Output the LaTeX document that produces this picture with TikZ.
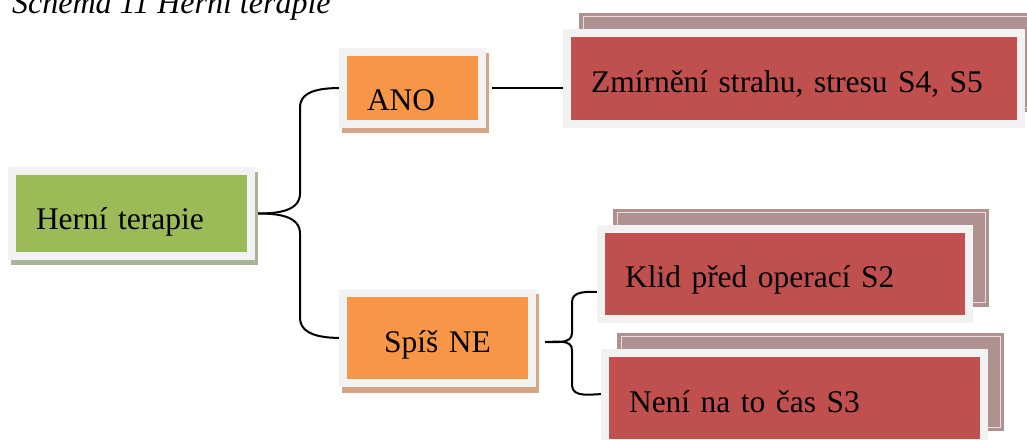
\documentclass[tikz,border=0pt]{standalone}
\usepackage{fontspec}
\setmainfont{Liberation Serif}
\usetikzlibrary{positioning,shadows}
\pgfdeclarelayer{background}
\pgfsetlayers{background,main}
\definecolor{framegray}{HTML}{F2F2F2}
\definecolor{ogreen}{HTML}{9BBB59}
\definecolor{oorange}{HTML}{F79646}
\definecolor{ored}{HTML}{C0504D}
\definecolor{greenshadow}{HTML}{A9B596}
\definecolor{orangeshadow}{HTML}{D3A584}
\definecolor{backred}{HTML}{B09191}
\definecolor{backline}{HTML}{EADCDC}
\tikzset{
  box/.style={rectangle, draw=framegray, line width=8pt, outer sep=0pt,
    inner xsep=24pt, inner ysep=0pt, align=left, text height=28pt, text depth=0pt,
    font=\fontsize{31.5}{38}\selectfont},
  greenbox/.style={box, fill=ogreen,
    drop shadow={shadow xshift=3pt, shadow yshift=-5.5pt, opacity=1, fill=greenshadow, draw=greenshadow, line width=8pt}},
  orangebox/.style={box, fill=oorange,
    drop shadow={shadow xshift=3pt, shadow yshift=-5.5pt, opacity=1, fill=orangeshadow, draw=orangeshadow, line width=8pt}},
  redbox/.style={box, fill=ored,
    drop shadow={shadow xshift=16pt, shadow yshift=16pt, opacity=1, fill=backred, draw=backred, line width=8pt},
    drop shadow={shadow xshift=16pt, shadow yshift=16pt, opacity=1, fill=none, draw=backline, line width=1pt}},
  brace/.style={line width=2pt}
}
\begin{document}
\begin{tikzpicture}[x=1pt,y=1pt,on grid]
   \useasboundingbox (0,0) rectangle (1027,439);
   \node[anchor=base west, inner sep=0pt, font=\itshape\fontsize{32}{38}\selectfont] (title) at (12,425) {Schéma 11 Herní terapie};
   \node[greenbox, minimum width=239pt, minimum height=85pt, text width=191pt, text height=33pt] (hern) at (131.5,225.5) {Herní terapie};
   \node[orangebox, minimum width=139pt, minimum height=72pt, text width=91pt, text height=46pt] (ano) [above right=125.5pt and 281pt of hern] {ANO};
   \node[orangebox, minimum width=189pt, minimum height=90pt, text width=141pt, align=center] (spis) [below right=124.5pt and 306pt of hern] {Spíš NE};
   \node[redbox, minimum width=454pt, minimum height=91pt, text width=406pt] (zmir) [above right=9.5pt and 381.5pt of ano] {Zmírnění strahu, stresu S4, S5};
   \node[redbox, minimum width=368pt, minimum height=90pt, text width=320pt] (klid) [above right=64pt and 347.5pt of spis] {Klid před operací S2};
   \node[redbox, minimum width=379pt, minimum height=90pt, text width=331pt] (neni) [below right=60pt and 357pt of spis] {Není na to čas S3};
   \begin{pgfonlayer}{background}
   \draw[brace] ([xshift=7pt]hern.east) to[out=0,in=-90] ++(42,20) -- ++(0,86) to[out=90,in=180] (ano.west);
   \draw[brace] ([xshift=7pt]hern.east) to[out=0,in=90] ++(42,-20) -- ++(0,-84) to[out=-90,in=180] (spis.west);
   \draw[brace, shorten <=10pt] (ano.east) -- (ano.east -| zmir.west);
   \draw[brace] ([xshift=13pt,yshift=-4pt]spis.east) to[out=0,in=-90] ++(27,9) -- ++(0,31) to[out=90,in=180] ([yshift=-18pt]klid.west);
   \draw[brace] ([xshift=13pt,yshift=-4pt]spis.east) to[out=0,in=90] ++(27,-8) -- ++(0,-35) to[out=-90,in=180] ([yshift=4pt]neni.west);
   \end{pgfonlayer}
\end{tikzpicture}
\end{document}
